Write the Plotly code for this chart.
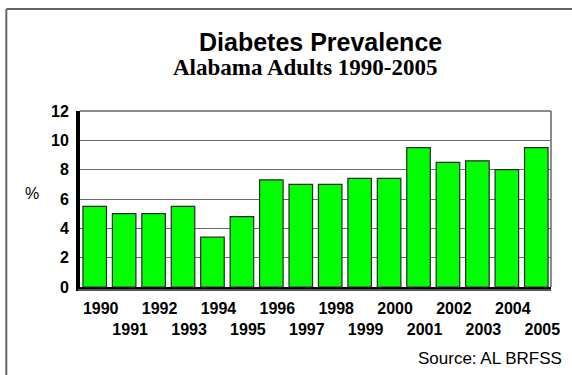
import plotly.graph_objects as go

years = list(range(1990, 2006))
prevalence = [5.5, 5.0, 5.0, 5.5, 3.4, 4.8, 7.3, 7.0, 7.0, 7.4, 7.4, 9.5, 8.5, 8.6, 8.0, 9.5]
tick_labels = [str(y) if y % 2 == 0 else "<br>" + str(y) for y in years]
y_ticks = [0, 2, 4, 6, 8, 10, 12]

W, H = 572, 375
L, R, T, B = 80, 19, 111, 88
pw, ph = W - L - R, H - T - B

def px(x):
    return (x - L) / pw

def py(y):
    return (H - B - y) / ph

SANS = "Arial, Liberation Sans, sans-serif"

fig = go.Figure()
fig.add_trace(go.Bar(
    x=years, y=prevalence,
    marker=dict(color="#00FF00", line=dict(color="#2a2a2a", width=1.2)),
    width=0.8,
))

fig.update_layout(
    width=W, height=H,
    margin=dict(l=L, r=R, t=T, b=B, pad=0),
    paper_bgcolor="white", plot_bgcolor="white",
    showlegend=False,
    font=dict(family=SANS, color="black"),
    bargap=0.19,
)
fig.update_xaxes(
    tickmode="array", tickvals=years, ticktext=tick_labels, tickangle=0,
    tickfont=dict(size=16, family=SANS, weight="bold"),
    showgrid=False, showline=True, linecolor="black", linewidth=4,
    ticks="", ticklabelshift=6, ticklabelstandoff=4,
    range=[1989.5, 2005.5], layer="below traces", zeroline=False,
)
fig.update_yaxes(
    range=[0, 12], tickvals=y_ticks,
    tickfont=dict(size=16, family=SANS, weight="bold"),
    showgrid=True, gridcolor="#6a6a6a", gridwidth=1,
    showline=True, linecolor="black", linewidth=4,
    ticks="", zeroline=False, ticklabelstandoff=4,
)

# plot frame (top & right) and faint baseline
fig.add_shape(type="line", xref="paper", yref="paper", x0=0, x1=1, y0=1, y1=1,
              line=dict(color="#666666", width=1.5))
fig.add_shape(type="line", xref="paper", yref="paper", x0=1, x1=1, y0=0, y1=1,
              line=dict(color="#666666", width=1.5))
fig.add_shape(type="line", xref="paper", yref="paper", x0=px(78), x1=1, y0=py(290), y1=py(290),
              line=dict(color="#aaaaaa", width=1))
# outer border (top & left)
fig.add_shape(type="line", xref="paper", yref="paper", x0=px(6), x1=px(600), y0=py(9), y1=py(9),
              line=dict(color="#666666", width=2))
fig.add_shape(type="line", xref="paper", yref="paper", x0=px(6), x1=px(6), y0=py(9), y1=py(400),
              line=dict(color="#666666", width=2))

fig.add_annotation(text="<b>Diabetes Prevalence</b>", xref="paper", yref="paper",
                   x=px(322), y=py(42), showarrow=False, xanchor="center", yanchor="middle",
                   font=dict(size=25, family=SANS))
fig.add_annotation(text="<b>Alabama Adults 1990-2005</b>", xref="paper", yref="paper",
                   x=px(306), y=py(67), showarrow=False, xanchor="center", yanchor="middle",
                   font=dict(size=23, family="Times New Roman, Liberation Serif, serif"))
fig.add_annotation(text="%", xref="paper", yref="paper",
                   x=px(32), y=py(193), showarrow=False, xanchor="center", yanchor="middle",
                   font=dict(size=16))
fig.add_annotation(text="Source: AL BRFSS", xref="paper", yref="paper",
                   x=px(566), y=py(358), showarrow=False, xanchor="right", yanchor="middle",
                   font=dict(size=17))

fig.write_html("out.html")
